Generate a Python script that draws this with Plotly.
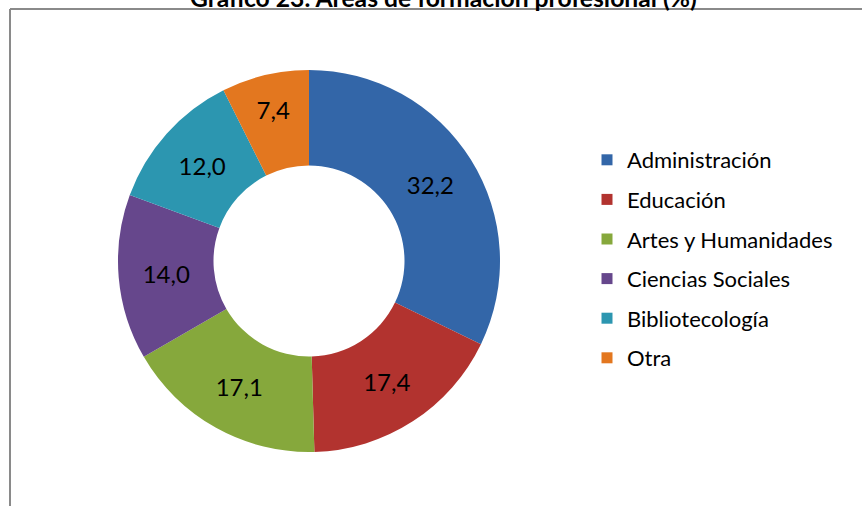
import plotly.graph_objects as go

categories = ["Administración", "Educación", "Artes y Humanidades",
              "Ciencias Sociales", "Bibliotecología", "Otra"]
values = [32.2, 17.4, 17.1, 14.0, 12.0, 7.4]
value_labels = ["32,2", "17,4", "17,1", "14,0", "12,0", "7,4"]
colors = ["#3366A8", "#B2332F", "#86A83C", "#66478C", "#2C96B0", "#E3771F"]
title_text = "Gráfico 23. Áreas de formación profesional (%)"

W, H = 862, 506
cx, cy, r = 309, 261, 191

fig = go.Figure()
fig.add_trace(go.Pie(
    labels=categories, values=values, text=value_labels,
    textinfo="text", textposition="inside", insidetextorientation="horizontal",
    textfont=dict(family="Lato", size=24, color="#000000"),
    marker=dict(colors=colors, line=dict(width=0)),
    hole=0.5, sort=False, direction="clockwise", rotation=0,
    showlegend=False, hoverinfo="label+percent",
    domain=dict(x=[(cx - r) / W, (cx + r) / W], y=[(H - cy - r) / H, (H - cy + r) / H]),
))

for i, (cat, col) in enumerate(zip(categories, colors)):
    fig.add_trace(go.Scatter(
        x=[None], y=[None], mode="markers", name=cat,
        marker=dict(symbol="square", size=11, color=col),
        legendgroup="g%d" % i, showlegend=True, hoverinfo="skip",
    ))

fig.update_layout(
    width=W, height=H,
    margin=dict(l=0, r=0, t=0, b=0),
    paper_bgcolor="white", plot_bgcolor="white",
    font=dict(family="Lato", color="#000000"),
    xaxis=dict(visible=False), yaxis=dict(visible=False),
    legend=dict(
        x=587 / W, y=1 - 139 / H, xanchor="left", yanchor="top",
        font=dict(family="Lato", size=22, color="#000000"),
        tracegroupgap=8, bgcolor="rgba(0,0,0,0)",
    ),
    shapes=[
        dict(type="line", xref="paper", yref="paper",
             x0=10 / W, x1=1, y0=1 - 9 / H, y1=1 - 9 / H,
             line=dict(color="#8a8a8a", width=2)),
        dict(type="line", xref="paper", yref="paper",
             x0=10 / W, x1=10 / W, y0=0, y1=1 - 9 / H,
             line=dict(color="#8a8a8a", width=2)),
    ],
    annotations=[
        dict(text="<b>" + title_text + "</b>", xref="paper", yref="paper",
             x=443 / W, y=1, xanchor="center", yanchor="middle", yshift=3,
             showarrow=False, font=dict(family="Lato", size=24.7, color="#000000")),
    ],
)

fig.write_html("out.html", config={"displayModeBar": False},
               post_script="document.body.style.margin='0px';document.body.style.padding='0px';")
